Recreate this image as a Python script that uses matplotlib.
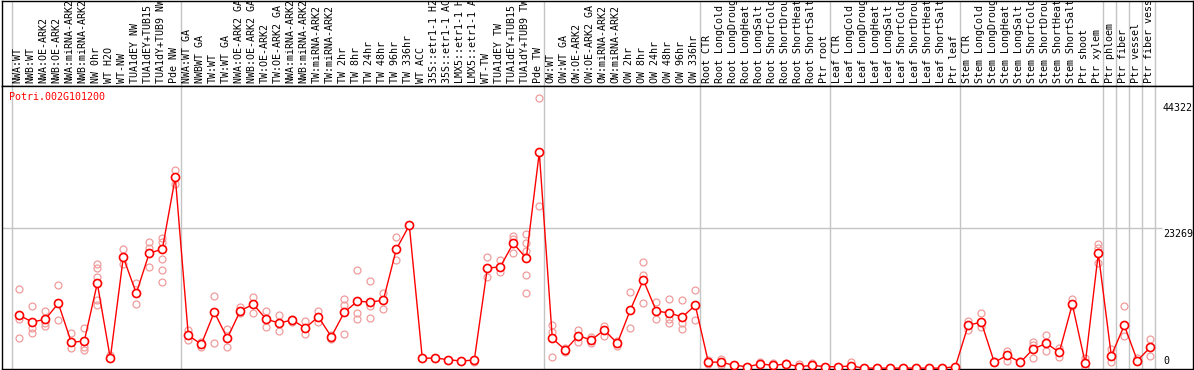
import matplotlib
matplotlib.use("Agg")
import matplotlib.pyplot as plt
import matplotlib.transforms as mtransforms
import numpy as np

# données
gene = "Potri.002G101200"

samples = [
    "NWA:WT", "NWB:WT", "NWA:OE-ARK2", "NWB:OE-ARK2", "NWA:miRNA-ARK2", "NWB:miRNA-ARK2",
    "NW 0hr", "WT H2O", "WT-NW", "TUA1dEY NW", "TUA1dEY+TUB15 NW", "TUA1dY+TUB9 NW", "Pde NW",
    "NWA:WT GA", "NWBWT GA", "TW:WT", "TW:WT GA", "NWA:OE-ARK2 GA", "NWB:OE-ARK2 GA",
    "TW:OE-ARK2", "TW:OE-ARK2 GA", "NWA:miRNA-ARK2", "NWB:miRNA-ARK2", "TW:miRNA-ARK2",
    "TW:miRNA-ARK2", "TW 2hr", "TW 8hr", "TW 24hr", "TW 48hr", "TW 96hr", "TW 336hr", "WT ACC",
    "35S::etr1-1 H2O", "35S::etr1-1 ACC", "LMX5::etr1-1 H2O", "LMX5::etr1-1 ACC", "WT-TW",
    "TUA1dEY TW", "TUA1dEY+TUB15 TW", "TUA1dY+TUB9 TW", "Pde TW",
    "OW:WT", "OW:WT GA", "OW:OE-ARK2", "OW:OE-ARK2 GA", "OW:miRNA-ARK2", "OW:miRNA-ARK2",
    "OW 2hr", "OW 8hr", "OW 24hr", "OW 48hr", "OW 96hr", "OW 336hr",
    "Root CTR", "Root LongCold", "Root LongDrought", "Root LongHeat", "Root LongSalt",
    "Root ShortCold", "Root ShortDrought", "Root ShortHeat", "Root ShortSalt", "Ptr root",
    "Leaf CTR", "Leaf LongCold", "Leaf LongDrought", "Leaf LongHeat", "Leaf LongSalt",
    "Leaf ShortCold", "Leaf ShortDrought", "Leaf ShortHeat", "Leaf ShortSalt", "Ptr leaf",
    "Stem CTR", "Stem LongCold", "Stem LongDrought", "Stem LongHeat", "Stem LongSalt",
    "Stem ShortCold", "Stem ShortDrought", "Stem ShortHeat", "Stem ShortSalt", "Ptr shoot",
    "Ptr xylem", "Ptr phloem", "Ptr fiber", "Ptr vessel", "Ptr fiber vessel",
]

# taille des groupes (séparés par les lignes grises)
groups = [13, 28, 12, 10, 10, 11, 1, 1, 1, 1]

means = [
    8772, 7663, 8110, 10758, 4303, 4518, 14068, 1655, 18371, 12413, 19082, 19695, 31611,
    5462, 3972, 9318, 4965, 9533, 10592, 8110, 7497, 7994, 6670, 8540, 5230, 9268, 11089,
    10973, 11254, 19695, 23667, 1655, 1705, 1423, 1208, 1374, 16550, 16815, 20688, 18205, 35748,
    4965, 3029, 5395, 4684, 6339, 4138, 9649, 14614, 9483, 9152, 8490, 10427,
    1043, 993, 497, 265, 712, 497, 712, 265, 497, 265,
    265, 380, 30, 30, 30, 30, 30, 30, 30, 265,
    7166, 7613, 993, 2152, 993, 3194, 4138, 2648, 10592, 828, 19033,
    2085, 7117, 1258, 3476,
]

reps = [
    [13075, 8110, 4965], [10261, 6620, 5892], [9483, 7448, 7001], [13786, 7994],
    [5793, 3310, 4303], [6670, 3575, 3029], [17262, 16550, 15061, 11304, 10476], [2201, 1655],
    [19695, 17262], [14068, 10642], [20853, 19860, 16815], [21515, 20952, 18040, 16219, 14233],
    [32819, 30452],
    [6339, 4700], [3575, 4353], [11916, 4138, 9300], [6455, 3476], [10096, 9103], [11751, 9202],
    [9483, 6885], [8772, 6124], [8110, 7712], [7779, 5627], [9533, 7712], [5511, 4800],
    [11420, 10476, 5627], [16219, 9103, 8209], [14399, 10311, 8275], [12462, 9814],
    [21681, 17874], [23766], [1655], [1705], [1423], [1208], [1092], [18371, 15160],
    [17923, 15987], [21896, 21350, 19033], [22227, 20688, 19463, 18470, 15392, 12462],
    [44685, 26910],
    [7166, 6057, 1870], [3310, 2747], [6339, 4402], [5131, 4138], [7001, 5346], [4568, 3691],
    [12578, 6620], [17543, 15441, 10758], [10973, 8110], [11420, 8110, 7547],
    [11254, 7547, 6455], [12909, 7944],
    [1374, 700], [1539, 546], [497], [265], [1092], [828], [927], [712], [828], [265],
    [265], [1092], [30], [30], [30], [30], [30], [30], [30], [265],
    [7878, 6339], [9103, 6885], [1258], [2913, 1258], [1258], [4303, 3856, 1754],
    [5462, 2863], [3310, 1920], [11469, 10311], [1655, 265], [20572, 19910, 17477],
    [3244, 1092], [10311, 5346], [1655], [4800, 2036],
]

yticks = [44322, 23269, 0]

mono = "DejaVu Sans Mono"
red = "#ff0000"
pink = "#f09c9c"
grey = "#c4c4c4"

W, H = 1194, 370
fig = plt.figure(figsize=(W / 100, H / 100), dpi=100)

xmin, xmax = (2 - 19.3) / 13, (1193 - 19.3) / 13
x = np.arange(len(samples))
bounds = np.cumsum([0] + groups) - 0.6

# panneau des étiquettes
axl = fig.add_axes([2 / W, (H - 86) / H, 1191 / W, 85.5 / H])
axl.set_xlim(xmin, xmax)
axl.set_ylim(0, 1)
axl.set_xticks([])
axl.set_yticks([])
for b in bounds:
    axl.axvline(b, color=grey, lw=1.0)
trans = mtransforms.blended_transform_factory(axl.transData, axl.transAxes)
for i, s in enumerate(samples):
    axl.text(i - 0.12, 3 / 86, s, transform=trans, rotation=90, ha="center", va="bottom",
             fontsize=7.2, family=mono, color="black", clip_on=True)
for sp in axl.spines.values():
    sp.set_color("black")
    sp.set_linewidth(1.0)

# graphique
ax = fig.add_axes([2 / W, 1 / H, 1191 / W, (369 - 86) / H])
ax.set_xlim(xmin, xmax)
ax.set_ylim((368.3 - 369) * 165.5, (368.3 - 86) * 165.5)
ax.set_xticks([])
ax.set_yticks([])
for b in bounds:
    ax.axvline(b, color=grey, lw=1.0, zorder=1)
ax.hlines(23269, xmin, (1162 - 19.3) / 13, color=grey, lw=1.0, zorder=1)

for i, r in enumerate(reps):
    ax.plot([i] * len(r), r, "o", ms=5.0, mfc="none", mec=pink, mew=0.9, zorder=2)
ax.plot(x, means, "-", color=red, lw=1.0, zorder=3)
ax.plot(x, means, "o", ms=5.8, mfc="white", mec=red, mew=1.2, zorder=4)

ax.text((9 - 19.3) / 13, 44322, gene, color=red, fontsize=7.2, family=mono,
        ha="left", va="baseline")

offs = [-3, -1, 2]
for t, o in zip(yticks, offs):
    ax.annotate(str(t), xy=((1163 - 19.3) / 13, t), xytext=(0, o), textcoords="offset pixels",
                ha="left", va="bottom" if t == 0 else "top", fontsize=7.2, family=mono,
                color="black")

for sp in ax.spines.values():
    sp.set_color("black")
    sp.set_linewidth(1.0)

fig.savefig("out.png", dpi=100)
